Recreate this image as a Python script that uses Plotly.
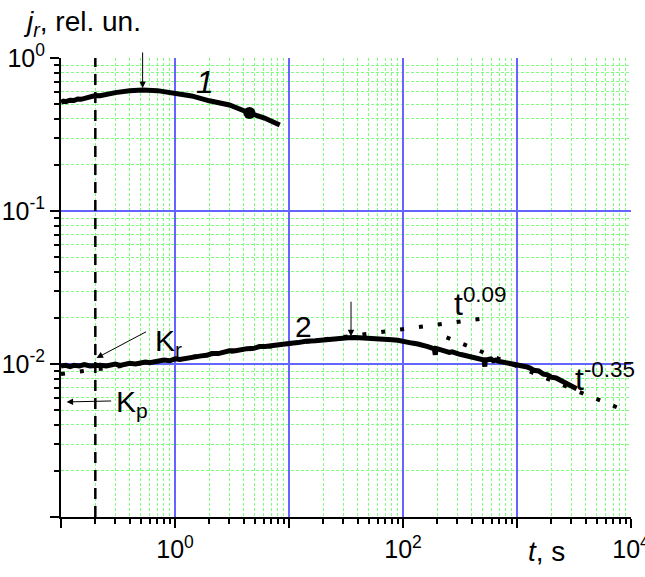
import numpy as np
import plotly.graph_objects as go

# ---- data ----
t1 = [0.1, 0.105, 0.11, 0.12, 0.13, 0.14, 0.15, 0.17, 0.19, 0.2, 0.22, 0.25, 0.3, 0.4, 0.52,
      0.7, 1.0, 1.4, 2.0, 3.0, 4.5, 6.1, 8.3]
j1 = [0.515, 0.522, 0.518, 0.530, 0.527, 0.540, 0.537, 0.552, 0.556, 0.568, 0.566, 0.580,
      0.594, 0.610, 0.618, 0.612, 0.590, 0.565, 0.525, 0.493, 0.437, 0.405, 0.365]
dot1_t = [4.5]
dot1_j = [0.437]

t2 = [0.1, 0.11, 0.12, 0.13, 0.145, 0.16, 0.18, 0.2, 0.22, 0.25, 0.28, 0.3, 0.33, 0.36, 0.4,
      0.45, 0.5, 0.55, 0.6, 0.7, 0.8, 0.9, 1.0, 1.1, 1.3, 1.5, 1.7, 1.9, 2.1, 2.4, 2.7, 3.0,
      3.4, 3.8, 4.3, 5.0, 5.5, 6.2, 7.0, 8.0, 9.0, 10, 12, 14, 17, 20, 24, 28, 33, 38, 45, 52,
      60, 70, 80, 90, 100, 110, 120, 135, 150, 165, 180, 188, 192, 196, 205, 220, 240, 255, 270,
      290, 310, 330, 350, 380, 410, 440, 470, 500, 515, 522, 528, 535, 560, 590, 620, 650, 700,
      750, 800, 880, 950, 1000, 1100, 1200, 1300, 1400, 1550, 1700, 1850, 2000, 2200, 2400,
      2600, 2800, 3000, 3335]
j2 = [0.0097, 0.0098, 0.0096, 0.0098, 0.0097, 0.0099, 0.0097, 0.00985, 0.0098, 0.0097, 0.0099,
      0.0100, 0.0098, 0.0100, 0.0101, 0.0100, 0.0102, 0.0103, 0.0102, 0.0104, 0.0106, 0.0105,
      0.0108, 0.0107, 0.0110, 0.0111, 0.0113, 0.0114, 0.0117, 0.0117, 0.0120, 0.0122, 0.0122,
      0.0125, 0.0126, 0.0127, 0.0130, 0.0130, 0.0132, 0.0133, 0.0136, 0.0136, 0.0138, 0.0141,
      0.0142, 0.0144, 0.0145, 0.0147, 0.01485, 0.0149, 0.0148, 0.0149, 0.0147, 0.0146, 0.0144,
      0.0143, 0.0140, 0.0139, 0.0137, 0.0135, 0.0131, 0.0130, 0.0127, 0.0126, 0.0115, 0.0126,
      0.0125, 0.0123, 0.0122, 0.0119, 0.0120, 0.0117, 0.0116, 0.0115, 0.0114, 0.0112, 0.0111,
      0.0109, 0.0108, 0.0107, 0.0106, 0.0096, 0.0110, 0.0106, 0.0107, 0.0108, 0.0105, 0.0106,
      0.0104, 0.0103, 0.0103, 0.0101, 0.0101, 0.0100, 0.0098, 0.0096, 0.0094, 0.0091, 0.0090,
      0.0086, 0.0085, 0.0082, 0.0081, 0.0078, 0.0076, 0.0074, 0.0072, 0.0069]

fit_up_t = [0.1, 472]
fit_up_j = [0.00861, 0.01968]
fit_down_t = [241, 8280]
fit_down_j = [0.01494, 0.00506]

vline_t = 0.2

x_tickvals = [0.1, 1, 10, 100, 1000, 10000]
x_ticktext = ["", "10<sup>0</sup>", "", "10<sup>2</sup>", "", "10<sup>4</sup>"]
y_tickvals = [0.001, 0.01, 0.1, 1]
y_ticktext = ["", "10<sup>-2</sup>", "10<sup>-1</sup>", "10<sup>0</sup>"]

x_minor = [m * 10.0 ** d for d in range(-1, 4) for m in range(2, 10)]
y_minor = [m * 10.0 ** d for d in range(-3, 0) for m in range(2, 10)]

FONT = "Arial, Liberation Sans, sans-serif"
L = np.log10

fig = go.Figure()

fig.add_trace(go.Scatter(x=fit_up_t, y=fit_up_j, mode="lines",
                         line=dict(color="black", width=4, dash="4px,15px")))
fig.add_trace(go.Scatter(x=fit_down_t, y=fit_down_j, mode="lines",
                         line=dict(color="black", width=4, dash="4px,14px")))
fig.add_trace(go.Scatter(x=[vline_t, vline_t], y=[0.001, 1.0], mode="lines",
                         line=dict(color="black", width=2.5, dash="11px,7px")))
fig.add_trace(go.Scatter(x=t1, y=j1, mode="lines", line=dict(color="black", width=5)))
fig.add_trace(go.Scatter(x=dot1_t, y=dot1_j, mode="markers", marker=dict(color="black", size=12)))
fig.add_trace(go.Scatter(x=t2, y=j2, mode="lines", line=dict(color="black", width=5)))

axis_common = dict(
    type="log", showline=True, linecolor="black", linewidth=2,
    ticks="outside", ticklen=9, tickwidth=2, tickcolor="black",
    showgrid=True, gridcolor="rgb(100,100,255)", gridwidth=1.6, zeroline=False,
    tickfont=dict(family=FONT, size=25, color="black"),
    tickmode="array", ticklabeloverflow="allow", automargin=False,
)
minor_common = dict(tickmode="array", ticks="outside", ticklen=5, tickwidth=1.5,
                    tickcolor="black", showgrid=True, gridcolor="rgb(125,255,125)",
                    gridwidth=1, griddash="3px,2px")

fig.update_xaxes(range=[-1, 4], tickvals=x_tickvals, ticktext=x_ticktext,
                 minor=dict(tickvals=x_minor, **minor_common), **axis_common)
fig.update_yaxes(range=[-3, 0], tickvals=y_tickvals, ticktext=y_ticktext,
                 minor=dict(tickvals=y_minor, **minor_common), **axis_common)

ann = []
def arrow(t, j, ax, ay):
    ann.append(dict(x=L(t), y=L(j), xref="x", yref="y", ax=ax, ay=ay, text="",
                    showarrow=True, arrowhead=2, arrowsize=1.3, arrowwidth=1,
                    arrowcolor="black", standoff=0))

def label(t, j, text, size=30, xanchor="left"):
    ann.append(dict(x=L(t), y=L(j), xref="x", yref="y", text=text, showarrow=False,
                    xanchor=xanchor, yanchor="middle",
                    font=dict(family=FONT, size=size, color="black")))

arrow(0.52, 0.637, 0, -37)
arrow(35, 0.0152, 0, -36)
arrow(0.205, 0.01094, 51, -27)
arrow(0.112, 0.00565, 46, -1)

label(1.82, 0.70, "<i>1</i>", 32, "center")
label(13.5, 0.0176, "2", 30, "center")
label(270, 0.0255, "t<sup>0.09</sup>", 32)
label(3100, 0.0082, "t<sup>-0.35</sup>", 32)
label(0.64, 0.0138, "K<sub>r</sub>", 30)
label(0.29, 0.0055, "K<sub>p</sub>", 30)

ann.append(dict(x=-0.07, y=1.075, xref="paper", yref="paper", showarrow=False,
                xanchor="left", yanchor="middle",
                text="<i>j</i><sub><i>r</i></sub>, rel. un.",
                font=dict(family=FONT, size=28, color="black")))
ann.append(dict(x=0.815, y=-0.075, xref="paper", yref="paper", showarrow=False,
                xanchor="left", yanchor="middle",
                text="<i>t</i>, s",
                font=dict(family=FONT, size=28, color="black")))

fig.update_layout(
    width=645, height=577,
    margin=dict(l=61, r=14, t=58, b=60),
    paper_bgcolor="white", plot_bgcolor="white",
    showlegend=False, annotations=ann,
)

fig.write_html("out.html")
